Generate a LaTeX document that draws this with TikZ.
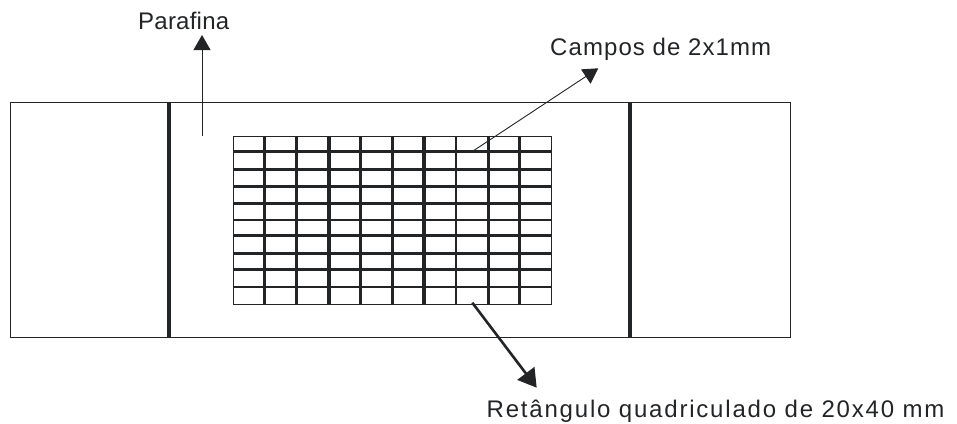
\documentclass[tikz,border=0pt]{standalone}
\usepackage{fontspec}
\setmainfont{Liberation Sans}
\newfontfamily\trackA{Liberation Sans}[LetterSpace=1.0]
\newfontfamily\trackB{Liberation Sans}[LetterSpace=4.5]
\newfontfamily\trackC{Liberation Sans}[LetterSpace=7.5]
\usetikzlibrary{arrows.meta}
\definecolor{ink}{HTML}{222426}
\tikzset{
  frame/.style={draw=ink, line width=1pt},
  bar/.style={draw=ink, line width=4pt},
  gline/.style={draw=ink, line width=3.3pt},
  gthin/.style={draw=ink, line width=2pt},
  label/.style={inner sep=0pt, anchor=base west, text=ink},
  thinarrow/.style={draw=ink, line width=0.9pt, -{Triangle[length=15pt,width=17pt]}},
  thickarrow/.style={draw=ink, line width=2.6pt, -{Triangle[length=18pt,width=21pt]}}
}
\begin{document}
\begin{tikzpicture}[x=1pt,y=-1pt]
\useasboundingbox (0,0) rectangle (957,423);
% slide
\draw[frame] (10,102) rectangle (790,337);
\draw[bar] (168.7,102) -- (168.7,337);
\draw[bar] (629.7,102) -- (629.7,337);
% grid lines
\foreach \x in {264.7,296.3,329,360.5,392.3,424,488.2,519.5} {\draw[gline] (\x,136) -- (\x,303.7);}
\draw[gthin] (455.8,136) -- (455.8,303.7);
\foreach \y in {151.8,169.3,186.7,203.3,235.6,253.3,269.3} {\draw[gline] (233,\y) -- (551,\y);}
\draw[gthin] (233,220) -- (551,220);
\draw[gthin] (233,286.5) -- (551,286.5);
\node[frame, draw, inner sep=0pt, minimum width=318pt, minimum height=167.7pt, anchor=north west] (grid) at (233,136) {};
% labels
\node[label, font=\trackA\fontsize{24}{28}\selectfont] (para) at (138,29.3) {Parafina};
\node[label, font=\trackB\fontsize{24}{28}\selectfont] (campos) at (550,55.7) {Campos de 2x1mm};
\node[label, font=\trackC\fontsize{24}{28}\selectfont] (ret) at (486.5,417.3) {Retângulo quadriculado de 20x40 mm};
% connector ends
\coordinate (pfrom) at (202,136);
\coordinate (pto) at (202,35);
\coordinate (cfrom) at (473,151);
\coordinate (cto) at (598.3,68.3);
\coordinate (rfrom) at (472.3,302.7);
\coordinate (rto) at (536.7,387.7);
\draw[thinarrow] (pfrom) -- (pto);
\draw[thinarrow] (cfrom) -- (cto);
\draw[thickarrow] (rfrom) -- (rto);
\end{tikzpicture}
\end{document}
